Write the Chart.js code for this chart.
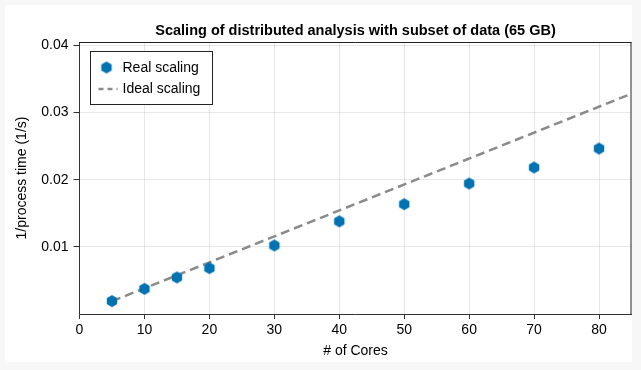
<!DOCTYPE html>
<html>
<head>
<meta charset="utf-8">
<script src="https://cdn.jsdelivr.net/npm/chart.js@4.4.1/dist/chart.umd.min.js"></script>
<style>
    html, body { margin: 0; padding: 0; background: #f7f7f7; }
    #wrap { position: absolute; left: 5px; top: 5px; width: 627px; height: 357px; background: #ffffff; overflow: hidden; }
</style>
</head>
<body>
<div id="wrap"><canvas id="scaling-chart" width="636" height="357"></canvas></div>
<script>
// values
const cores = [5, 10, 15, 20, 30, 40, 50, 60, 70, 80]
const realScaling = [0.00192, 0.00375, 0.00545, 0.00683, 0.0102, 0.0138, 0.01635, 0.01943, 0.02182, 0.02464]
const idealCores = [5, 85]
const idealScaling = [0.0019, 0.0328]
const xTicks = [0, 10, 20, 30, 40, 50, 60, 70, 80]
const yTicks = [0.01, 0.02, 0.03, 0.04]

const blue = '#0072b2'
const dashGray = '#8a8a8a'
const font = '"Liberation Sans", Arial, sans-serif'

// hexagon marker, vertex up
function hexagon(r) {
    const c = document.createElement('canvas')
    const s = Math.ceil(r * 2) + 2
    c.width = s
    c.height = s
    const g = c.getContext('2d')
    g.fillStyle = blue
    g.beginPath()
    for (let i = 0; i < 6; i++) {
        const a = Math.PI / 2 + i * Math.PI / 3
        g.lineTo(s / 2 + r * Math.cos(a), s / 2 - r * Math.sin(a))
    }
    g.closePath()
    g.fill()
    return c
}
const marker = hexagon(6)

function toPoints(xs, ys) {
    return xs.map((x, i) => ({ x: x, y: ys[i] }))
}

const frame = {
    id: 'frame',
    afterDraw(chart) {
        const a = chart.chartArea
        const ctx = chart.ctx
        ctx.save()
        ctx.strokeStyle = '#222'
        ctx.lineWidth = 1
        ctx.beginPath()
        ctx.moveTo(a.left, a.top + 0.5)
        ctx.lineTo(a.right, a.top + 0.5)
        ctx.moveTo(a.right - 0.5, a.top)
        ctx.lineTo(a.right - 0.5, a.bottom)
        ctx.stroke()

        // legend box inside the axis, top left
        const x = Math.round(a.left + 10) + 0.5
        const y = Math.round(a.top + 9) + 0.5
        ctx.fillStyle = '#fff'
        ctx.fillRect(x, y, 122, 53)
        ctx.strokeRect(x, y, 122, 53)
        const ds = chart.data.datasets
        ctx.drawImage(marker, x + 16 - marker.width / 2, y + 16 - marker.height / 2)
        ctx.strokeStyle = dashGray
        ctx.lineWidth = 2.5
        ctx.setLineDash([5, 4])
        ctx.beginPath()
        ctx.moveTo(x + 8, y + 37.5)
        ctx.lineTo(x + 27, y + 37.5)
        ctx.stroke()
        ctx.setLineDash([])
        ctx.fillStyle = '#000'
        ctx.font = '14px ' + font
        ctx.textBaseline = 'middle'
        ctx.fillText(ds[0].label, x + 32, y + 16.5)
        ctx.fillText(ds[1].label, x + 32, y + 38)
        ctx.restore()
    }
}

new Chart(document.getElementById('scaling-chart'), {
    type: 'scatter',
    data: {
        datasets: [{
            label: 'Real scaling',
            data: toPoints(cores, realScaling),
            pointStyle: marker,
            pointRadius: 6,
            backgroundColor: blue,
            borderColor: blue,
            order: 0
        }, {
            label: 'Ideal scaling',
            data: toPoints(idealCores, idealScaling),
            showLine: true,
            pointRadius: 0,
            borderColor: dashGray,
            borderWidth: 2.5,
            borderDash: [9, 5],
            fill: false,
            order: 1
        }]
    },
    options: {
        animation: false,
        responsive: false,
        layout: { padding: { left: 0, right: 9.5, top: 10, bottom: 0 } },
        plugins: {
            legend: { display: false },
            tooltip: { enabled: false },
            title: {
                display: true,
                fullSize: false,
                text: 'Scaling of distributed analysis with subset of data (65 GB)',
                color: '#000',
                font: { family: font, size: 14.5, weight: 'bold' },
                padding: { top: 6.8, bottom: 2.8 }
            }
        },
        scales: {
            x: {
                type: 'linear',
                min: 0,
                max: 85,
                afterBuildTicks(scale) {
                    scale.ticks = xTicks.map(v => ({ value: v }))
                },
                afterFit(scale) { scale.height = 48 },
                ticks: {
                    color: '#000',
                    font: { family: font, size: 14 },
                    padding: 3,
                    maxRotation: 0
                },
                grid: { color: 'rgba(0,0,0,0.09)', tickColor: '#333', tickLength: 5 },
                border: { color: '#333' },
                title: {
                    display: true,
                    text: '# of Cores',
                    color: '#000',
                    font: { family: font, size: 14 },
                    padding: { top: 0, bottom: 2.6 }
                }
            },
            y: {
                type: 'linear',
                min: 0,
                max: 0.0405,
                afterBuildTicks(scale) {
                    scale.ticks = yTicks.map(v => ({ value: v }))
                },
                afterFit(scale) { scale.width = 74.5 },
                ticks: {
                    color: '#000',
                    font: { family: font, size: 14 },
                    padding: 5,
                    callback: v => String(v)
                },
                grid: { color: 'rgba(0,0,0,0.09)', tickColor: '#333', tickLength: 6 },
                border: { color: '#333' },
                title: {
                    display: true,
                    text: '1/process time (1/s)',
                    color: '#000',
                    font: { family: font, size: 14 },
                    padding: { top: 8.4, bottom: 0 }
                }
            }
        }
    },
    plugins: [frame]
})
</script>
</body>
</html>
